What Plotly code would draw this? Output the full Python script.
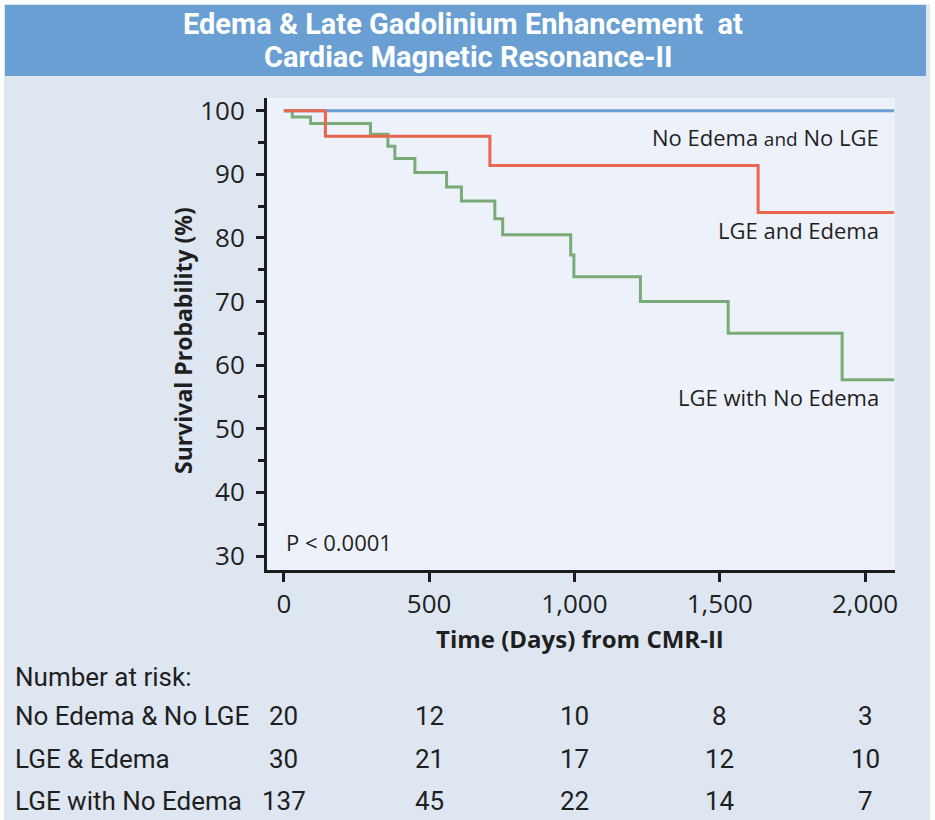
import plotly.graph_objects as go

# Kaplan-Meier curves (days from CMR-II, survival %)
t_no_edema_no_lge = [0, 2100]
s_no_edema_no_lge = [100, 100]

t_lge_edema = [0, 143, 709, 1632, 2100]
s_lge_edema = [100, 96.0, 91.4, 84.0, 84.0]

t_lge_no_edema = [0, 29, 92, 298, 358, 382, 451, 560, 611, 726, 753,
                  987, 998, 1227, 1529, 1921, 2100]
s_lge_no_edema = [100, 99.0, 98.0, 96.3, 94.4, 92.5, 90.3, 88.0, 85.8, 83.0, 80.5,
                  77.3, 73.9, 70.0, 65.0, 57.7, 57.7]

# Number-at-risk table
risk_times = [0, 500, 1000, 1500, 2000]
risk_groups = ["No Edema & No LGE", "LGE & Edema", "LGE with No Edema"]
risk_no_edema_no_lge = [20, 12, 10, 8, 3]
risk_lge_edema = [30, 21, 17, 12, 10]
risk_lge_no_edema = [137, 45, 22, 14, 7]

x_tick_vals = [0, 500, 1000, 1500, 2000]
x_tick_text = ["0", "500", "1,000", "1,500", "2,000"]
y_tick_vals = [30, 40, 50, 60, 70, 80, 90, 100]

BLUE = "#6a9fd6"
RED = "#e8654f"
GREEN = "#79ab79"
INK = "#1f1f1f"
AXIS = "#1c1c1c"

W, H = 935, 820
ML, MR, MT, MB = 267, 40, 98, 250
PW, PH = W - ML - MR, H - MT - MB


def px_x(p):
    return (p - ML) / PW


def px_y(p):
    return (H - MB - p) / PH


fig = go.Figure()
fig.add_trace(go.Scatter(x=t_no_edema_no_lge, y=s_no_edema_no_lge, mode="lines",
                         line=dict(color=BLUE, width=3, shape="hv"), showlegend=False))
fig.add_trace(go.Scatter(x=t_lge_no_edema, y=s_lge_no_edema, mode="lines",
                         line=dict(color=GREEN, width=3, shape="hv"), showlegend=False))
fig.add_trace(go.Scatter(x=t_lge_edema, y=s_lge_edema, mode="lines",
                         line=dict(color=RED, width=3, shape="hv"), showlegend=False))

shapes = [
    # outer panel
    dict(type="rect", xref="paper", yref="paper", layer="below",
         x0=px_x(4), x1=px_x(930), y0=px_y(820), y1=px_y(4),
         fillcolor="#dee6f2", line=dict(width=0)),
    # plotting area
    dict(type="rect", xref="paper", yref="paper", layer="below",
         x0=0, x1=1, y0=0, y1=1, fillcolor="#edf1f9", line=dict(width=0)),
    # title banner
    dict(type="rect", xref="paper", yref="paper", layer="below",
         x0=px_x(5), x1=px_x(926), y0=px_y(76), y1=px_y(5),
         fillcolor="#6a9fd3", line=dict(width=0)),
]

TITLE_FONT = "Roboto"
TABLE_FONT = "Roboto"
BODY_FONT = "Open Sans"

annotations = [
    dict(text="<b>Edema & Late Gadolinium Enhancement\u00a0 at</b>", x=px_x(463), y=px_y(24),
         xref="paper", yref="paper", showarrow=False, xanchor="center", yanchor="middle",
         font=dict(family=TITLE_FONT, size=29, color="white")),
    dict(text="<b>Cardiac Magnetic Resonance-II</b>", x=px_x(468), y=px_y(57),
         xref="paper", yref="paper", showarrow=False, xanchor="center", yanchor="middle",
         font=dict(family=TITLE_FONT, size=29, color="white")),
    # axis titles
    dict(text="<b>Survival Probability (%)</b>", x=px_x(183), y=px_y(341),
         xref="paper", yref="paper", showarrow=False, textangle=-90,
         xanchor="center", yanchor="middle",
         font=dict(family=BODY_FONT, size=23, color=INK)),
    dict(text="<b>Time (Days) from CMR-II</b>", x=px_x(580), y=px_y(638),
         xref="paper", yref="paper", showarrow=False, xanchor="center", yanchor="middle",
         font=dict(family=BODY_FONT, size=24, color=INK)),
    # curve labels
    dict(text="No Edema <span style='font-size:19px'>and</span> No LGE", x=px_x(881), y=px_y(137),
         xref="paper", yref="paper", showarrow=False, xanchor="right", yanchor="middle",
         font=dict(family=BODY_FONT, size=22, color=INK)),
    dict(text="LGE and Edema", x=px_x(881), y=px_y(230),
         xref="paper", yref="paper", showarrow=False, xanchor="right", yanchor="middle",
         font=dict(family=BODY_FONT, size=22, color=INK)),
    dict(text="LGE with No Edema", x=px_x(881), y=px_y(397),
         xref="paper", yref="paper", showarrow=False, xanchor="right", yanchor="middle",
         font=dict(family=BODY_FONT, size=22, color=INK)),
    dict(text="P &lt; 0.0001", x=px_x(284), y=px_y(542),
         xref="paper", yref="paper", showarrow=False, xanchor="left", yanchor="middle",
         font=dict(family=BODY_FONT, size=22, color=INK)),
    # number at risk
    dict(text="Number at risk:", x=px_x(13), y=px_y(677),
         xref="paper", yref="paper", showarrow=False, xanchor="left", yanchor="middle",
         font=dict(family=TABLE_FONT, size=26, color=INK)),
]

row_y = [716, 759, 801]
for label, counts, ry in zip(risk_groups,
                             [risk_no_edema_no_lge, risk_lge_edema, risk_lge_no_edema],
                             row_y):
    annotations.append(dict(text=label, x=px_x(13), y=px_y(ry), xref="paper", yref="paper",
                            showarrow=False, xanchor="left", yanchor="middle",
                            font=dict(family=TABLE_FONT, size=26, color=INK)))
    for t, n in zip(risk_times, counts):
        annotations.append(dict(text=str(n), x=t, y=px_y(ry), xref="x", yref="paper",
                                showarrow=False, xanchor="center", yanchor="middle",
                                font=dict(family=TABLE_FONT, size=26, color=INK)))

fig.update_layout(
    width=W, height=H,
    margin=dict(l=ML, r=MR, t=MT, b=MB, pad=0),
    paper_bgcolor="white",
    plot_bgcolor="rgba(0,0,0,0)",
    shapes=shapes,
    annotations=annotations,
    xaxis=dict(range=[-58, 2103], tickvals=x_tick_vals, ticktext=x_tick_text,
               showgrid=False, zeroline=False, showline=True, linecolor=AXIS, linewidth=3,
               ticks="outside", ticklen=9, tickwidth=3, tickcolor=AXIS,
               ticklabelstandoff=0,
               tickfont=dict(family=BODY_FONT, size=26, color=INK)),
    yaxis=dict(range=[27.8, 102.0], tickvals=y_tick_vals,
               showgrid=False, zeroline=False, showline=True, linecolor=AXIS, linewidth=3,
               ticks="outside", ticklen=8, tickwidth=3, tickcolor=AXIS,
               ticklabelstandoff=6,
               minor=dict(tickvals=[35, 45, 55, 65, 75, 85, 95], ticks="outside",
                          ticklen=6, tickwidth=3, tickcolor=AXIS),
               tickfont=dict(family=BODY_FONT, size=26, color=INK)),
)

fig.write_html("out.html")
